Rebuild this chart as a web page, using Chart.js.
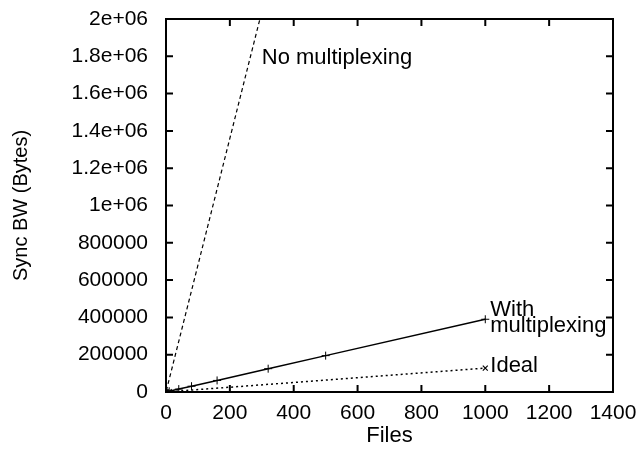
<!DOCTYPE html>
<html>
<head>
<meta charset="utf-8">
<script src="https://cdn.jsdelivr.net/npm/chart.js@4/dist/chart.umd.min.js"></script>
<style>
  html, body { margin: 0; padding: 0; background: #fff; }
  #wrap { width: 643px; height: 457px; }
</style>
</head>
<body>
<div id="wrap"><canvas id="bwChart"></canvas></div>
<script>
// Data
const muxFiles = [1, 10, 40, 80, 160, 320, 500, 1000];
const muxBW = [400, 4000, 15600, 31000, 62000, 125000, 195000, 390000];

const idealFiles = [1, 10, 1000];
const idealBW = [128, 1280, 128000];

const noMuxFiles = [1, 10, 40, 80, 160, 320, 500, 1000];
const noMuxBW = [6800, 68000, 272000, 544000, 1088000, 2176000, 3400000, 6800000];

const xTicks = [0, 200, 400, 600, 800, 1000, 1200, 1400];
const yTicks = [0, 200000, 400000, 600000, 800000, 1000000, 1200000, 1400000, 1600000, 1800000, 2000000];

const FONT = '"Liberation Sans", Arial, Helvetica, sans-serif';

function toPoints(xs, ys) {
    return xs.map((v, i) => ({ x: v, y: ys[i] }));
}

// gnuplot style number format: 1e+06, 1.2e+06 ...
function gnuFormat(v) {
    if (v >= 1000000) {
        const m = v / 1000000;
        return (Math.round(m * 10) / 10) + 'e+06';
    }
    return String(v);
}

// frame, inward ticks on all sides, inline series labels
const framePlugin = {
    id: 'frame',
    afterDatasetsDraw(chart) {
        const { ctx, chartArea: a, scales } = chart;
        const x = scales.x, y = scales.y;
        ctx.save();
        ctx.strokeStyle = '#000';
        ctx.lineWidth = 2;
        ctx.strokeRect(a.left, a.top, a.right - a.left, a.bottom - a.top);
        ctx.beginPath();
        xTicks.forEach(v => {
            const px = x.getPixelForValue(v);
            ctx.moveTo(px, a.bottom); ctx.lineTo(px, a.bottom - 7);
            ctx.moveTo(px, a.top); ctx.lineTo(px, a.top + 7);
        });
        yTicks.forEach(v => {
            const py = y.getPixelForValue(v);
            ctx.moveTo(a.left, py); ctx.lineTo(a.left + 7, py);
            ctx.moveTo(a.right, py); ctx.lineTo(a.right - 7, py);
        });
        ctx.stroke();

        ctx.fillStyle = '#000';
        ctx.font = '22px ' + FONT;
        ctx.textAlign = 'left';
        ctx.textBaseline = 'middle';
        ctx.fillText('No multiplexing', x.getPixelForValue(300), y.getPixelForValue(1790000));
        const mx = x.getPixelForValue(muxFiles[muxFiles.length - 1]) + 5;
        const my = y.getPixelForValue(muxBW[muxBW.length - 1]);
        ctx.fillText('With', mx, my - 9);
        ctx.fillText('multiplexing', mx, my + 7);
        const ix = x.getPixelForValue(idealFiles[idealFiles.length - 1]) + 5;
        const iy = y.getPixelForValue(idealBW[idealBW.length - 1]);
        ctx.fillText('Ideal', ix, iy - 2);
        ctx.restore();
    }
};

const chart = new Chart(document.getElementById('bwChart'), {
    type: 'line',
    data: {
        datasets: [{
            label: 'No multiplexing',
            data: toPoints(noMuxFiles, noMuxBW),
            borderColor: '#000',
            borderWidth: 1.2,
            borderDash: [4, 3],
            pointRadius: 0,
            tension: 0
        },
        {
            label: 'With multiplexing',
            data: toPoints(muxFiles, muxBW),
            borderColor: '#000',
            borderWidth: 1.5,
            pointStyle: 'cross',
            pointRadius: 4,
            pointBorderWidth: 1,
            pointBorderColor: '#000',
            tension: 0
        },
        {
            label: 'Ideal',
            data: toPoints(idealFiles, idealBW),
            borderColor: '#000',
            borderWidth: 1.5,
            borderDash: [2, 3],
            pointStyle: 'crossRot',
            pointRadius: 3.5,
            pointBorderWidth: 1.2,
            pointBorderColor: '#000',
            tension: 0
        }]
    },
    options: {
        responsive: true,
        maintainAspectRatio: false,
        animation: false,
        layout: { padding: { left: 0, right: 30, top: 19, bottom: 0 } },
        plugins: {
            legend: { display: false },
            tooltip: { enabled: false }
        },
        scales: {
            x: {
                type: 'linear',
                min: 0,
                max: 1400,
                afterFit(scale) { scale.height = 65; },
                afterBuildTicks(scale) { scale.ticks = xTicks.map(v => ({ value: v })); },
                grid: { display: false, drawTicks: true, tickLength: 9 },
                border: { display: false },
                ticks: {
                    color: '#000',
                    padding: 0,
                    font: { family: FONT, size: 21 },
                    callback: v => String(v)
                },
                title: {
                    display: true,
                    text: 'Files',
                    color: '#000',
                    padding: { top: 0, bottom: 8 },
                    font: { family: FONT, size: 22 }
                }
            },
            y: {
                type: 'linear',
                min: 0,
                max: 2000000,
                afterFit(scale) { scale.width = 166; },
                afterBuildTicks(scale) { scale.ticks = yTicks.map(v => ({ value: v })); },
                grid: { display: false, drawTicks: true, tickLength: 18 },
                border: { display: false },
                ticks: {
                    color: '#000',
                    padding: 0,
                    font: { family: FONT, size: 21 },
                    callback: v => gnuFormat(v)
                },
                title: {
                    display: true,
                    text: 'Sync BW (Bytes)',
                    color: '#000',
                    padding: { top: 9, bottom: 0 },
                    font: { family: FONT, size: 20 }
                }
            }
        }
    },
    plugins: [framePlugin]
});
</script>
</body>
</html>
